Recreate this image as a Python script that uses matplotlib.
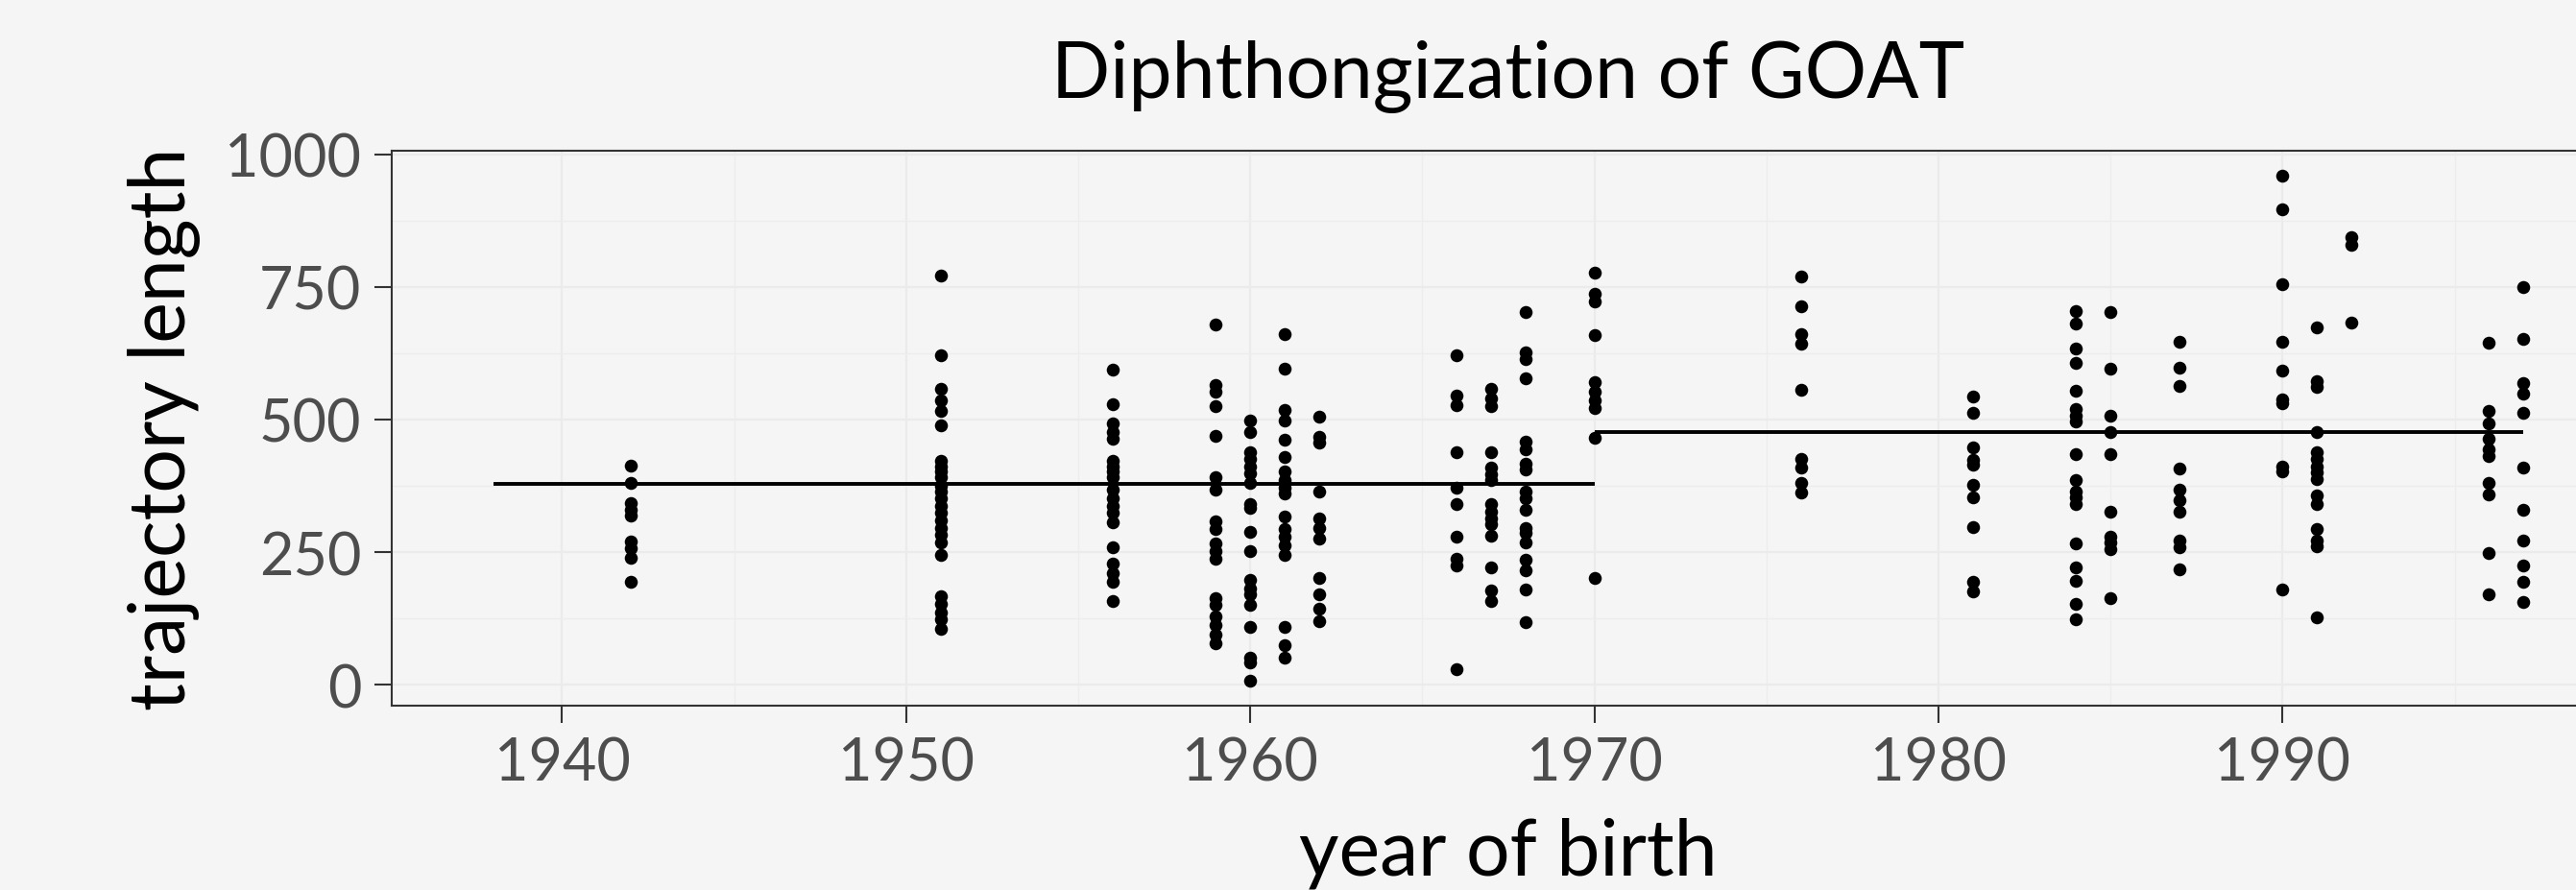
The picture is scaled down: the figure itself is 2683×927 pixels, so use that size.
import matplotlib
matplotlib.use("Agg")
import matplotlib.pyplot as plt
from matplotlib.ticker import MultipleLocator
import numpy as np

plt.rcParams['font.family'] = ['Lato', 'DejaVu Sans']

# trajectory lengths per year of birth
len_1942 = [413, 380, 342, 330, 318, 270, 258, 240, 193]
len_1951 = [772, 622, 558, 537, 516, 489, 422, 412, 402, 392, 375, 364, 351, 337,
            324, 310, 296, 283, 269, 244, 167, 153, 136, 123, 106]
len_1956 = [595, 529, 492, 477, 463, 422, 412, 402, 392, 368, 351, 337, 324, 307,
            259, 228, 211, 194, 158]
len_1959 = [679, 565, 553, 526, 470, 392, 368, 308, 294, 266, 252, 238, 163, 150,
            129, 112, 95, 78]
len_1960 = [499, 477, 439, 426, 412, 399, 381, 341, 334, 288, 252, 198, 181, 170,
            151, 108, 51, 41, 8]
len_1961 = [662, 596, 518, 499, 462, 429, 402, 385, 371, 361, 317, 293, 279, 262,
            245, 109, 75, 51]
len_1962 = [506, 467, 456, 364, 313, 296, 276, 201, 170, 143, 119]
len_1966 = [622, 545, 528, 439, 371, 341, 279, 238, 225, 29]
len_1967 = [558, 540, 525, 438, 409, 396, 385, 341, 327, 313, 303, 281, 221, 177, 157]
len_1968 = [703, 627, 614, 578, 458, 444, 416, 405, 364, 351, 330, 296, 286, 269,
            235, 215, 180, 118]
len_1970 = [777, 737, 722, 659, 570, 552, 537, 521, 465, 201]
len_1976 = [769, 714, 662, 643, 556, 426, 409, 381, 362]
len_1981 = [543, 513, 447, 424, 414, 376, 354, 298, 194, 176]
len_1984 = [704, 681, 634, 606, 554, 520, 507, 497, 435, 386, 364, 354, 341, 266,
            221, 196, 153, 123]
len_1985 = [703, 596, 507, 477, 435, 326, 279, 269, 255, 163]
len_1987 = [646, 598, 564, 407, 368, 347, 327, 272, 259, 217]
len_1990 = [960, 897, 755, 647, 593, 538, 530, 412, 403, 179]
len_1991 = [674, 572, 561, 477, 439, 426, 412, 401, 388, 356, 341, 294, 272, 260, 126]
len_1992 = [845, 830, 683]
len_1996 = [645, 516, 493, 464, 444, 432, 381, 359, 248, 171]
len_1997 = [750, 652, 569, 548, 512, 409, 329, 271, 225, 194, 155]

birth_years = [1942, 1951, 1956, 1959, 1960, 1961, 1962, 1966, 1967, 1968, 1970,
               1976, 1981, 1984, 1985, 1987, 1990, 1991, 1992, 1996, 1997]
lengths = [len_1942, len_1951, len_1956, len_1959, len_1960, len_1961, len_1962,
           len_1966, len_1967, len_1968, len_1970, len_1976, len_1981, len_1984,
           len_1985, len_1987, len_1990, len_1991, len_1992, len_1996, len_1997]

# group means drawn as segments
seg_start = [1938, 1970]
seg_end = [1970, 1997]
seg_mean = [378, 477]

xs = np.concatenate([[yr] * len(v) for yr, v in zip(birth_years, lengths)])
ys = np.concatenate(lengths)

bg = '#f5f5f5'
fig = plt.figure(figsize=(26.83, 9.28), dpi=100, facecolor=bg)
ax = fig.add_axes([0.1521, 0.207, 0.8669, 0.623], facecolor=bg)

ax.scatter(xs, ys, s=95, color='black', linewidths=0, zorder=3)
ax.hlines(seg_mean, seg_start, seg_end, colors='black', linewidth=2.8, zorder=4)

# ggplot style 5% expansion
x_lo, x_hi = min(seg_start), max(seg_end)
y_lo, y_hi = ys.min(), ys.max()
ax.set_xlim(x_lo - 0.05 * (x_hi - x_lo), x_hi + 0.05 * (x_hi - x_lo))
ax.set_ylim(y_lo - 0.05 * (y_hi - y_lo), y_hi + 0.05 * (y_hi - y_lo))

ax.set_xticks([1940, 1950, 1960, 1970, 1980, 1990])
ax.set_yticks([0, 250, 500, 750, 1000])
ax.xaxis.set_minor_locator(MultipleLocator(5))
ax.yaxis.set_minor_locator(MultipleLocator(125))
ax.grid(which='major', color='#ebebeb', linewidth=1.6, zorder=0)
ax.grid(which='minor', color='#ededed', linewidth=0.9, zorder=0)
ax.set_axisbelow(True)

for side in ax.spines.values():
    side.set_color('#333333')
    side.set_linewidth(1.5)

ax.tick_params(which='major', length=13, width=1.5, color='#333333',
               labelsize=44, labelcolor='#4d4d4d', pad=10)
ax.tick_params(which='minor', length=0)

ax.set_title('Diphthongization of GOAT', fontsize=58, pad=40)
ax.set_xlabel('year of birth', fontsize=58, labelpad=19)
ax.set_ylabel('trajectory length', fontsize=58, labelpad=18)

fig.savefig('out.png', dpi=100, facecolor=bg)
